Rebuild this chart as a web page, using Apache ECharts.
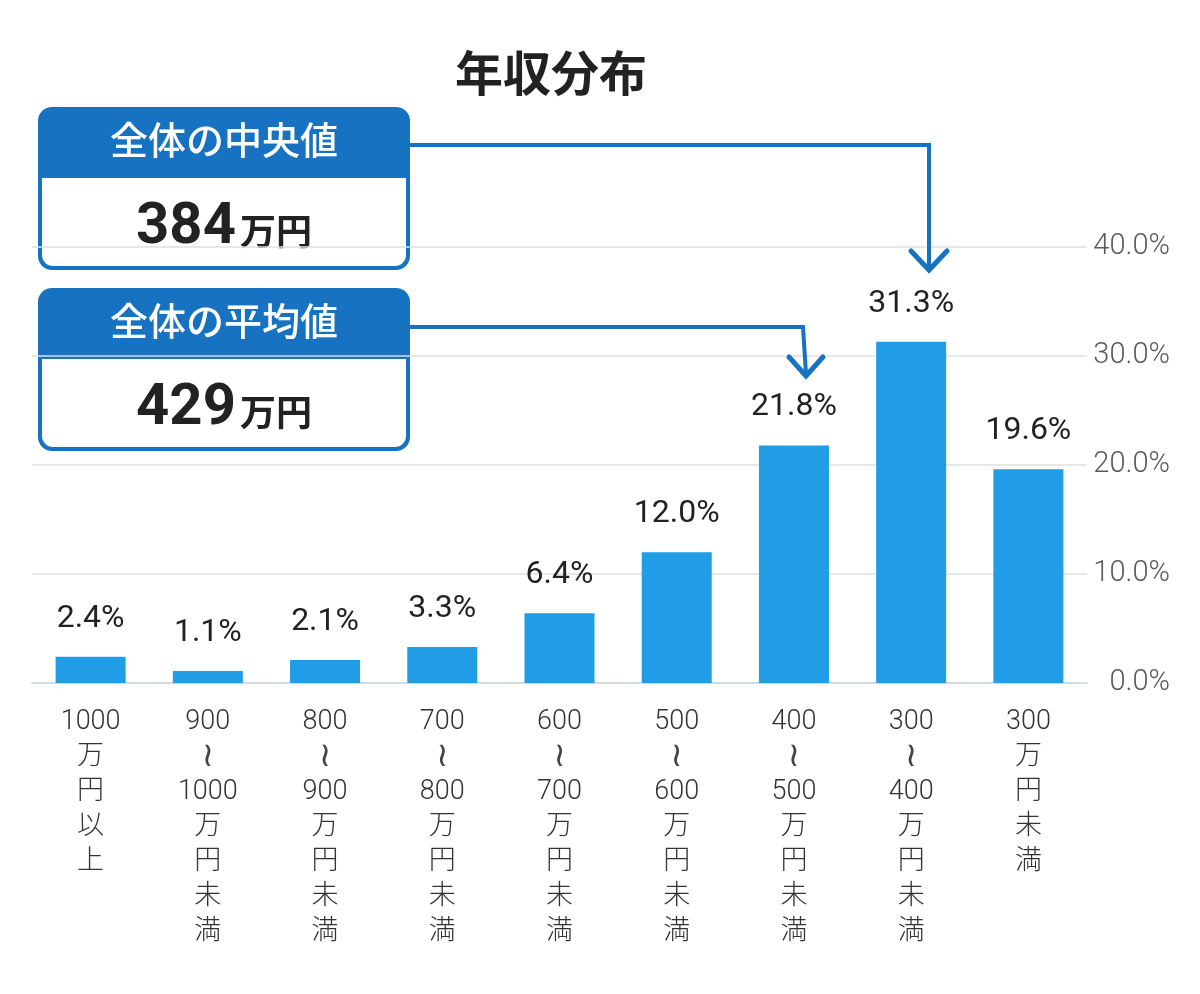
<!DOCTYPE html>
<html>
<head>
<meta charset="utf-8">
<script src="https://cdn.jsdelivr.net/npm/echarts@6/dist/echarts.min.js"></script>
<style>
html,body{margin:0;padding:0;background:#fff;}
#c{width:1200px;height:994px;}
</style>
</head>
<body>
<div id="c"></div>
<script>
const title = '年収分布';
const categories = [
  '1000\n万\n円\n以\n上',
  '900\n≀\n1000\n万\n円\n未\n満',
  '800\n≀\n900\n万\n円\n未\n満',
  '700\n≀\n800\n万\n円\n未\n満',
  '600\n≀\n700\n万\n円\n未\n満',
  '500\n≀\n600\n万\n円\n未\n満',
  '400\n≀\n500\n万\n円\n未\n満',
  '300\n≀\n400\n万\n円\n未\n満',
  '300\n万\n円\n未\n満'
];
const shares = [2.4, 1.1, 2.1, 3.3, 6.4, 12.0, 21.8, 31.3, 19.6];
const yTicks = [0, 10, 20, 30, 40];
const medianLabel = '全体の中央値';
const medianValue = '384';
const meanLabel = '全体の平均値';
const meanValue = '429';
const unit = '万円';

const FONT = "Roboto, 'Noto Sans CJK JP', sans-serif";
const BLUE = '#1772C2';
const BAR = '#209DE5';

function box(y, head, val) {
  return {
    type: 'group', z: 100,
    children: [
      { type: 'rect', shape: { x: 38, y: y, width: 372, height: 163, r: 14 }, style: { fill: BLUE } },
      { type: 'rect', shape: { x: 42, y: y + 71, width: 364, height: 88, r: [0, 0, 11, 11] }, style: { fill: '#fff' } },
      { type: 'text', x: 224, y: y + 37, style: { text: head, fill: '#fff', font: "500 38px " + FONT, align: 'center', verticalAlign: 'middle' } },
      { type: 'text', x: 224, y: y + 121, style: {
          text: '{a|' + val + '}{b|' + unit + '}', align: 'center', verticalAlign: 'middle',
          rich: {
            a: { fontSize: 58, fontWeight: 'bold', fontFamily: FONT, fill: '#222', verticalAlign: 'bottom' },
            b: { fontSize: 36, fontWeight: 'bold', fontFamily: FONT, fill: '#222', padding: [0, 0, 3, 4], verticalAlign: 'bottom' }
          }
        } }
    ]
  };
}

function fmtCat(v) {
  return v.split('\n').map(s => s === '≀' ? '{t|' + s + '}' : '{n|' + s + '}').join('\n');
}

const chart = echarts.init(document.getElementById('c'));
chart.setOption({
  backgroundColor: '#fff',
  animation: false,
  title: { text: title, left: 546, top: 50, textAlign: 'center',
    textStyle: { fontSize: 48, fontWeight: 'bold', color: '#222', fontFamily: FONT } },
  grid: { left: 32, right: 113, top: 247, bottom: 311 },
  xAxis: {
    type: 'category', data: categories,
    axisLine: { show: true, lineStyle: { color: '#d6d9de', width: 2 } },
    axisTick: { show: false },
    axisLabel: { interval: 0, margin: 22, verticalAlign: 'top', formatter: fmtCat,
      rich: {
        n: { fontSize: 27, lineHeight: 35, color: '#333', fontFamily: FONT, fontWeight: 300 },
        t: { fontSize: 34, lineHeight: 35, color: '#444', fontFamily: "'DejaVu Sans', sans-serif", fontWeight: 'normal' }
      } }
  },
  yAxis: {
    type: 'value', position: 'right', min: yTicks[0], max: yTicks[yTicks.length - 1], interval: 10,
    axisLine: { show: false }, axisTick: { show: false },
    splitLine: { lineStyle: { color: '#dcdfe3', width: 1.5 } },
    axisLabel: { formatter: v => v.toFixed(1) + '%', fontSize: 29, color: '#5a5a5a', fontWeight: 300,
      fontFamily: FONT, align: 'right', margin: 83 }
  },
  series: [{
    type: 'bar', data: shares, barWidth: 70,
    itemStyle: { color: BAR },
    label: { show: true, position: 'top', distance: 22, formatter: p => p.value.toFixed(1) + '%',
      fontSize: 32, fontWeight: 'normal', color: '#222', fontFamily: FONT }
  }],
  graphic: [
    box(107, medianLabel, medianValue),
    box(288, meanLabel, meanValue),
    { type: 'polyline', z: 99, shape: { points: [[408, 145], [929, 145], [929, 268]] },
      style: { stroke: BLUE, lineWidth: 4, fill: null, lineJoin: 'miter' } },
    { type: 'polyline', z: 99, shape: { points: [[911, 251], [929, 270], [947, 251]] },
      style: { stroke: BLUE, lineWidth: 5, fill: null, lineCap: 'round' } },
    { type: 'polyline', z: 99, shape: { points: [[408, 327], [803, 327], [806, 374]] },
      style: { stroke: BLUE, lineWidth: 4, fill: null, lineJoin: 'miter' } },
    { type: 'polyline', z: 99, shape: { points: [[789, 357], [806, 376], [823, 357]] },
      style: { stroke: BLUE, lineWidth: 5, fill: null, lineCap: 'round' } }
  ]
});
</script>
</body>
</html>
